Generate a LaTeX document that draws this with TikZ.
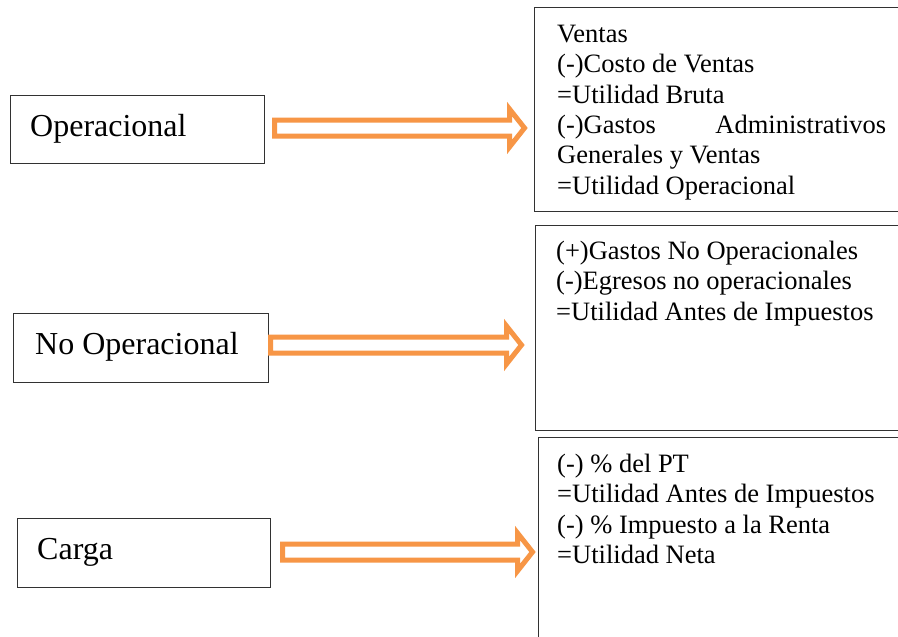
\documentclass[tikz,border=0pt]{standalone}
\usepackage{fontspec}
\setmainfont{Liberation Serif}
\definecolor{arrowor}{RGB}{247,150,70}
\definecolor{boxline}{RGB}{50,50,50}
\tikzset{
  lbox/.style={draw=boxline, line width=1.4pt, inner sep=0pt, anchor=north west},
  rbox/.style={draw=boxline, line width=1.4pt, inner sep=0pt, anchor=north west},
  ltext/.style={inner sep=0pt, anchor=base west, font=\fontsize{32}{38}\selectfont},
  rtext/.style={inner sep=0pt, anchor=base west, font=\fontsize{26.5}{30.5}\selectfont},
  barrow/.style={draw=arrowor, fill=white, line width=5pt, miter limit=10}
}
\newcommand\blockarrow[3]{%
  \draw[barrow] (#1,#3-8) -- (#2-15,#3-8) -- (#2-15,#3-19) -- (#2,#3)
    -- (#2-15,#3+19) -- (#2-15,#3+8) -- (#1,#3+8) -- cycle;}
\begin{document}
\begin{tikzpicture}[x=1pt,y=-1pt]
\clip (0,0) rectangle (898,637);
\fill[white] (0,0) rectangle (898,637);

% left boxes
\node[lbox, minimum width=254pt, minimum height=68pt] (op) at (10,95) {};
\node[ltext] (optxt) at (30,136) {Operacional};
\node[lbox, minimum width=255pt, minimum height=69pt] (nop) at (13,313) {};
\node[ltext] (noptxt) at (35,354) {No Operacional};
\node[lbox, minimum width=253pt, minimum height=69pt] (car) at (17,518) {};
\node[ltext] (cartxt) at (37,559) {Carga};

% right boxes
\node[rbox, minimum width=380pt, minimum height=204pt] (r1) at (534,7) {};
\node[rtext] (r1txt) at (557,42) {\parbox[t]{329pt}{%
  Ventas\\
  (-)Costo de Ventas\\
  =Utilidad Bruta\\
  (-)Gastos\hfill Administrativos\\
  Generales y Ventas\\
  =Utilidad Operacional}};

\node[rbox, minimum width=380pt, minimum height=205pt] (r2) at (535,225) {};
\node[rtext] (r2txt) at (556,259) {\parbox[t]{329pt}{%
  (+)Gastos No Operacionales\\
  (-)Egresos no operacionales\\
  =Utilidad Antes de Impuestos}};

\node[rbox, minimum width=380pt, minimum height=230pt] (r3) at (538,437) {};
\node[rtext] (r3txt) at (557,472) {\parbox[t]{329pt}{%
  (-) \% del PT\\
  =Utilidad Antes de Impuestos\\
  (-) \% Impuesto a la Renta\\
  =Utilidad Neta}};

% block arrows
\blockarrow{274.5}{524.5}{128}
\blockarrow{270.5}{521.5}{345}
\blockarrow{282.5}{532.5}{552}
\end{tikzpicture}
\end{document}
